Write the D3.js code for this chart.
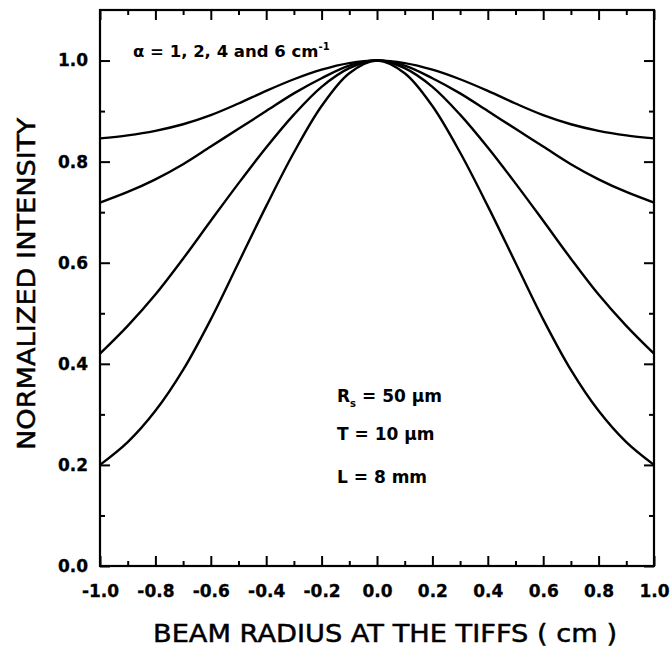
<!DOCTYPE html>
<html>
<head>
<meta charset="utf-8">
<script src="https://cdn.jsdelivr.net/npm/d3@7"></script>
<style>
  html, body { margin: 0; padding: 0; background: #fff; }
  svg { display: block; }
  text { font-family: "DejaVu Sans", sans-serif; fill: #000; }
</style>
</head>
<body>
<div id="chart"></div>
<script>
// ---- data ----
const beamRadius = [-1.0, -0.9, -0.8, -0.7, -0.6, -0.5, -0.4, -0.3, -0.2, -0.1, 0.0,
                     0.1, 0.2, 0.3, 0.4, 0.5, 0.6, 0.7, 0.8, 0.9, 1.0];
const alpha1 = [0.846, 0.852, 0.861, 0.874, 0.892, 0.915, 0.940, 0.963, 0.982, 0.995, 1.0,
                0.995, 0.982, 0.963, 0.940, 0.915, 0.892, 0.874, 0.861, 0.852, 0.846];
const alpha2 = [0.719, 0.740, 0.765, 0.795, 0.830, 0.865, 0.900, 0.935, 0.965, 0.990, 1.0,
                0.990, 0.965, 0.935, 0.900, 0.865, 0.830, 0.795, 0.765, 0.740, 0.719];
const alpha4 = [0.420, 0.475, 0.537, 0.608, 0.683, 0.757, 0.828, 0.893, 0.948, 0.985, 1.0,
                0.985, 0.948, 0.893, 0.828, 0.757, 0.683, 0.608, 0.537, 0.475, 0.420];
const alpha6 = [0.200, 0.245, 0.307, 0.388, 0.488, 0.600, 0.712, 0.818, 0.910, 0.975, 1.0,
                0.975, 0.910, 0.818, 0.712, 0.600, 0.488, 0.388, 0.307, 0.245, 0.200];
const seriesList = [alpha1, alpha2, alpha4, alpha6];
const xTickValues = [-1.0, -0.8, -0.6, -0.4, -0.2, 0.0, 0.2, 0.4, 0.6, 0.8, 1.0];
const yTickValues = [0.0, 0.2, 0.4, 0.6, 0.8, 1.0];
const xMinorTicks = [-0.9, -0.7, -0.5, -0.3, -0.1, 0.1, 0.3, 0.5, 0.7, 0.9];
const yMinorTicks = [0.1, 0.3, 0.5, 0.7, 0.9];
const xTitle = "BEAM RADIUS AT THE TIFFS  ( cm )";
const yTitle = "NORMALIZED INTENSITY";

// ---- layout ----
const W = 672, H = 652;
const L = 100, R = 654, T = 10, B = 566;

const svg = d3.select("#chart").append("svg").attr("width", W).attr("height", H);

const x = d3.scaleLinear().domain([-1, 1]).range([L, R]);
const y = d3.scaleLinear().domain([0, 1.1]).range([B, T]);

const fmt = v => d3.format(".1f")(v).replace("\u2212", "-");

function styleAxis(g) {
  g.select(".domain").remove();
  g.selectAll(".tick line").attr("stroke", "#000").attr("stroke-width", 2);
}
function styleLabels(g) {
  g.selectAll("text").attr("font-size", 17).attr("font-weight", "bold")
    .attr("font-family", "DejaVu Sans").attr("fill", "#000")
    .attr("stroke", "#000").attr("stroke-width", 0.3);
}

// bottom
svg.append("g").attr("transform", `translate(0,${B})`)
  .call(d3.axisBottom(x).tickValues(xTickValues).tickSizeInner(-10).tickSizeOuter(0)
        .tickPadding(19).tickFormat(fmt))
  .call(styleAxis).call(styleLabels);
svg.append("g").attr("transform", `translate(0,${B})`)
  .call(d3.axisBottom(x).tickValues(xMinorTicks).tickSizeInner(-5).tickSizeOuter(0).tickFormat(""))
  .call(styleAxis);
// top
svg.append("g").attr("transform", `translate(0,${T})`)
  .call(d3.axisTop(x).tickValues(xTickValues).tickSizeInner(-10).tickSizeOuter(0).tickFormat(""))
  .call(styleAxis);
svg.append("g").attr("transform", `translate(0,${T})`)
  .call(d3.axisTop(x).tickValues(xMinorTicks).tickSizeInner(-5).tickSizeOuter(0).tickFormat(""))
  .call(styleAxis);
// left
svg.append("g").attr("transform", `translate(${L},0)`)
  .call(d3.axisLeft(y).tickValues(yTickValues).tickSizeInner(-10).tickSizeOuter(0)
        .tickPadding(12).tickFormat(fmt))
  .call(styleAxis).call(styleLabels);
svg.append("g").attr("transform", `translate(${L},0)`)
  .call(d3.axisLeft(y).tickValues(yMinorTicks).tickSizeInner(-5).tickSizeOuter(0).tickFormat(""))
  .call(styleAxis);
// right
svg.append("g").attr("transform", `translate(${R},0)`)
  .call(d3.axisRight(y).tickValues(yTickValues).tickSizeInner(-10).tickSizeOuter(0).tickFormat(""))
  .call(styleAxis);
svg.append("g").attr("transform", `translate(${R},0)`)
  .call(d3.axisRight(y).tickValues(yMinorTicks).tickSizeInner(-5).tickSizeOuter(0).tickFormat(""))
  .call(styleAxis);

// frame
svg.append("rect").attr("x", L).attr("y", T).attr("width", R - L).attr("height", B - T)
  .attr("fill", "none").attr("stroke", "#000").attr("stroke-width", 2.2);

// curves
const line = d3.line().x((d, i) => x(beamRadius[i])).y(d => y(d)).curve(d3.curveCatmullRom.alpha(0.5));
svg.append("g").selectAll("path").data(seriesList).join("path")
  .attr("d", d => line(d))
  .attr("fill", "none").attr("stroke", "#000").attr("stroke-width", 2.4)
  .attr("stroke-linejoin", "round");

// alpha label
const aLab = svg.append("text").attr("x", 133).attr("y", 57)
  .attr("font-size", 16.5).attr("font-weight", "bold");
aLab.append("tspan").text("\u03B1 = 1, 2, 4 and 6 cm");
aLab.append("tspan").attr("dy", -7).attr("font-size", 10).text("-1");

// parameter annotations
const ann = svg.append("g").attr("font-size", 17).attr("font-weight", "bold");
const r1 = ann.append("text").attr("x", 337).attr("y", 402);
r1.append("tspan").text("R");
r1.append("tspan").attr("dy", 5).attr("font-size", 10).text("s");
r1.append("tspan").attr("dy", -5).text(" = 50 \u03BCm");
ann.append("text").attr("x", 337).attr("y", 440).text("T = 10 \u03BCm");
ann.append("text").attr("x", 337).attr("y", 483).text("L = 8 mm");

// axis titles
svg.append("text").attr("x", 153).attr("y", 642)
  .attr("font-size", 25).attr("textLength", 464).attr("lengthAdjust", "spacingAndGlyphs")
  .attr("stroke", "#000").attr("stroke-width", 0.5)
  .text(xTitle);
svg.append("text").attr("transform", `translate(35,450) rotate(-90)`)
  .attr("font-size", 25).attr("textLength", 332).attr("lengthAdjust", "spacingAndGlyphs")
  .attr("stroke", "#000").attr("stroke-width", 0.5)
  .text(yTitle);
</script>
</body>
</html>
